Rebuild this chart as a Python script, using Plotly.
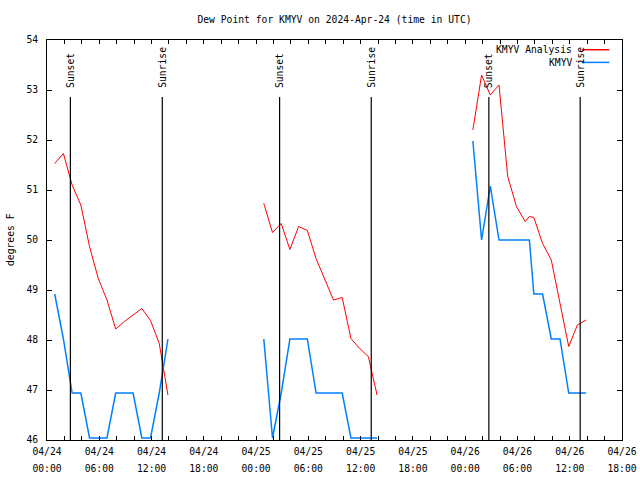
import plotly.graph_objects as go

# ---------------- data ----------------
day1_times = ["2024-04-24 00:53", "2024-04-24 01:53", "2024-04-24 02:53", "2024-04-24 03:53",
              "2024-04-24 04:53", "2024-04-24 05:53", "2024-04-24 06:53", "2024-04-24 07:53",
              "2024-04-24 08:53", "2024-04-24 09:53", "2024-04-24 10:53", "2024-04-24 11:53",
              "2024-04-24 12:53", "2024-04-24 13:53"]
day1_analysis = [51.53, 51.73, 51.10, 50.70, 49.87, 49.23, 48.80, 48.22, 48.37, 48.50, 48.63, 48.39, 47.93, 46.90]
day1_obs = [48.92, 48.02, 46.94, 46.94, 46.04, 46.04, 46.04, 46.94, 46.94, 46.94, 46.04, 46.04, 46.94, 48.02]

day2_times = ["2024-04-25 00:53", "2024-04-25 01:53", "2024-04-25 02:53", "2024-04-25 03:53",
              "2024-04-25 04:53", "2024-04-25 05:53", "2024-04-25 06:53", "2024-04-25 07:53",
              "2024-04-25 08:53", "2024-04-25 09:53", "2024-04-25 10:53", "2024-04-25 11:53",
              "2024-04-25 12:53", "2024-04-25 13:53"]
day2_analysis = [50.73, 50.15, 50.33, 49.81, 50.27, 50.19, 49.63, 49.23, 48.80, 48.85, 48.03, 47.83, 47.67, 46.90]
day2_obs = [48.02, 46.04, 46.94, 48.02, 48.02, 48.02, 46.94, 46.94, 46.94, 46.94, 46.04, 46.04, 46.04, 46.04]

day3_times = ["2024-04-26 00:53", "2024-04-26 01:53", "2024-04-26 02:53", "2024-04-26 03:53",
              "2024-04-26 04:53", "2024-04-26 05:53", "2024-04-26 06:53", "2024-04-26 07:22",
              "2024-04-26 07:53", "2024-04-26 08:53", "2024-04-26 09:53", "2024-04-26 10:53",
              "2024-04-26 11:53", "2024-04-26 12:53", "2024-04-26 13:53"]
day3_analysis = [52.20, 53.30, 52.90, 53.10, 51.27, 50.67, 50.37, 50.47, 50.45, 49.93, 49.60, 48.73, 47.87, 48.30, 48.40]
day3_obs = [51.98, 50.00, 51.08, 50.00, 50.00, 50.00, 50.00, 50.00, 48.92, 48.92, 48.02, 48.02, 46.94, 46.94, 46.94]

sunset_times = ["2024-04-24 02:41", "2024-04-25 02:42", "2024-04-26 02:43"]
sunrise_times = ["2024-04-24 13:14", "2024-04-25 13:13", "2024-04-26 13:12"]

tick_vals = ["2024-04-24 00:00", "2024-04-24 06:00", "2024-04-24 12:00", "2024-04-24 18:00",
             "2024-04-25 00:00", "2024-04-25 06:00", "2024-04-25 12:00", "2024-04-25 18:00",
             "2024-04-26 00:00", "2024-04-26 06:00", "2024-04-26 12:00", "2024-04-26 18:00"]
tick_dates = ["04/24", "04/24", "04/24", "04/24", "04/25", "04/25", "04/25", "04/25",
              "04/26", "04/26", "04/26", "04/26"]
tick_hours = ["00:00", "06:00", "12:00", "18:00", "00:00", "06:00", "12:00", "18:00",
              "00:00", "06:00", "12:00", "18:00"]
x_range = ["2024-04-24 00:00", "2024-04-26 18:00"]
y_range = [46, 54]

# ---------------- styling ----------------
FONT = "DejaVu Sans Mono"
FS = 9.7
RED = "#ff0000"
BLUE = "#0080ff"

fig = go.Figure()
for t, a, o in [(day1_times, day1_analysis, day1_obs),
                (day2_times, day2_analysis, day2_obs),
                (day3_times, day3_analysis, day3_obs)]:
    fig.add_trace(go.Scatter(x=t, y=a, mode="lines", line=dict(color=RED, width=1),
                             name="KMYV Analysis", showlegend=False))
    fig.add_trace(go.Scatter(x=t, y=o, mode="lines", line=dict(color=BLUE, width=1.5),
                             name="KMYV", showlegend=False))

# helper trace for second tick-label row
fig.add_trace(go.Scatter(x=x_range, y=[None, None], xaxis="x2", mode="lines",
                         showlegend=False, hoverinfo="skip"))

line_top = 52.86
for ts, label in [(sunset_times, "Sunset"), (sunrise_times, "Sunrise")]:
    for t in ts:
        fig.add_shape(type="line", xref="x", yref="y", x0=t, x1=t, y0=y_range[0], y1=line_top,
                      line=dict(color="black", width=1.2))
        fig.add_annotation(x=t, y=53.0, xref="x", yref="y", text=label, textangle=-90,
                           showarrow=False, xanchor="center", yanchor="bottom",
                           font=dict(family=FONT, size=FS, color="black"))

# legend (gnuplot style: text then sample)
for name, color, yp in [("KMYV Analysis", RED, 0.9757), ("KMYV", BLUE, 0.944)]:
    fig.add_annotation(x=0.9165, y=yp, xref="paper", yref="paper", text=name, showarrow=False,
                       xanchor="right", yanchor="middle",
                       font=dict(family=FONT, size=FS, color="black"))
    fig.add_shape(type="line", xref="paper", yref="paper", x0=0.9299, x1=0.978, y0=yp, y1=yp,
                  line=dict(color=color, width=1.5))

fig.add_annotation(x=-0.0643, y=0.5, xref="paper", yref="paper", text="degrees F", textangle=-90,
                   showarrow=False, xanchor="center", yanchor="middle",
                   font=dict(family=FONT, size=FS, color="black"))

fig.update_layout(
    width=640, height=480,
    margin=dict(l=47, r=18, t=40, b=40, autoexpand=False),
    paper_bgcolor="white", plot_bgcolor="white",
    font=dict(family=FONT, size=FS, color="black"),
    title=dict(text="Dew Point for KMYV on 2024-Apr-24 (time in UTC)", x=0.5, xref="paper",
               y=1 - 20 / 480, yanchor="middle", xanchor="center", automargin=False,
               font=dict(family=FONT, size=FS, color="black")),
    showlegend=False,
    xaxis=dict(type="date", range=x_range, tickmode="array", tickvals=tick_vals, ticktext=tick_dates,
               ticks="inside", ticklen=4, tickcolor="black", tickwidth=1,
               minor=dict(dtick=7200000, ticks="inside", ticklen=4, tickcolor="black", tickwidth=1),
               showline=True, linecolor="black", linewidth=1, mirror="ticks",
               showgrid=False, zeroline=False, ticklabelstandoff=2, automargin=False,
               tickfont=dict(family=FONT, size=FS, color="black")),
    xaxis2=dict(type="date", range=x_range, matches="x", overlaying="x", anchor="y", side="bottom",
                tickmode="array", tickvals=tick_vals, ticktext=tick_hours, ticks="",
                showline=False, showgrid=False, zeroline=False, ticklabelstandoff=21,
                automargin=False,
                tickfont=dict(family=FONT, size=FS, color="black")),
    yaxis=dict(range=y_range, dtick=1, tick0=46, ticks="inside", ticklen=5, tickcolor="black",
               showline=True, linecolor="black", linewidth=1, mirror="ticks",
               showgrid=False, zeroline=False, ticklabelstandoff=6, automargin=False,
               tickfont=dict(family=FONT, size=FS, color="black")),
)

fig.write_html("out.html", config={"displayModeBar": False},
               post_script="document.body.style.margin='0';")
